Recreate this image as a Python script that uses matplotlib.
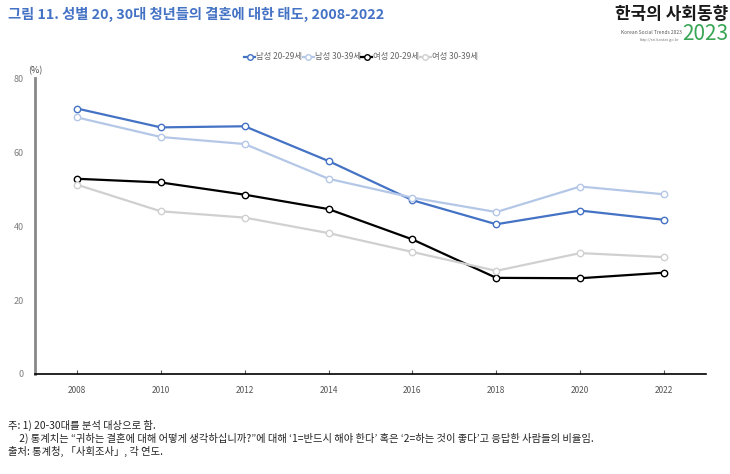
import matplotlib
matplotlib.use("Agg")
import matplotlib.pyplot as plt
from matplotlib.lines import Line2D

plt.rcParams["font.family"] = ["Noto Sans CJK KR", "DejaVu Sans"]

years = ["2008", "2010", "2012", "2014", "2016", "2018", "2020", "2022"]
male_20s = [71.8, 66.7, 67.0, 57.6, 47.0, 40.5, 44.2, 41.7]
male_30s = [69.4, 64.1, 62.2, 52.8, 47.7, 43.8, 50.7, 48.6]
female_20s = [52.8, 51.8, 48.5, 44.6, 36.4, 26.0, 25.9, 27.4]
female_30s = [51.2, 44.0, 42.3, 38.1, 33.0, 27.9, 32.7, 31.6]
labels = ["남성 20-29세", "남성 30-39세", "여성 20-29세", "여성 30-39세"]
colors = ["#4472C4", "#B4C7E7", "#000000", "#D0D0D0"]

fig = plt.figure(figsize=(7.30, 4.74), dpi=100)
ax = fig.add_axes([0.048, 0.211, 0.919, 0.624])

x = range(len(years))
for vals, lab, col in zip([male_20s, male_30s, female_20s, female_30s], labels, colors):
    ax.plot(x, vals, color=col, linewidth=1.6, marker="o", markersize=4.6,
            markerfacecolor="white", markeredgecolor=col, markeredgewidth=1.0,
            label=lab)

ax.set_xlim(-0.5, len(years) - 0.5)
ax.set_ylim(0, 80)
ax.set_yticks([0, 20, 40, 60, 80])
ax.set_xticks(list(x))
ax.set_xticklabels(years)
ax.tick_params(axis="y", length=0, labelsize=6.5, labelcolor="#7f7f7f", pad=8)
ax.tick_params(axis="x", length=3, width=0.8, color="#555555", labelsize=6,
               labelcolor="#555555", pad=9, direction="in")
for s in ["top", "right"]:
    ax.spines[s].set_visible(False)
ax.spines["left"].set_color("#888888")
ax.spines["left"].set_linewidth(2)
ax.spines["bottom"].set_color("#000000")
ax.spines["bottom"].set_linewidth(1.2)

fig.text(35 / 730, 1 - 71 / 474, "(%)", fontsize=6.5, color="#444444",
         ha="center", va="center")

handles = [Line2D([0], [0], color=c, linewidth=1.6, marker="o", markersize=4,
                  markerfacecolor="white", markeredgecolor=c) for c in colors]
fig.legend(handles, labels, loc="center", bbox_to_anchor=(361 / 730, 1 - 57 / 474),
           ncol=4, frameon=False, fontsize=6, handlelength=1.3,
           handletextpad=0.1, columnspacing=0.1, labelcolor="#666666")

fig.text(8 / 730, 1 - 14 / 474, "그림 11. 성별 20, 30대 청년들의 결혼에 대한 태도, 2008-2022",
         fontsize=10.3, fontweight="bold", color="#4472C4", va="center")

fig.text(728 / 730, 1 - 14 / 474, "한국의 사회동향", fontsize=12.2, fontweight="bold",
         color="#1a1a1a", ha="right", va="center")
fig.text(621 / 730, 1 - 32 / 474, "Korean Social Trends 2023", fontsize=3.5,
         color="#555555", ha="left", va="center")
fig.text(640 / 730, 1 - 40 / 474, "http://sri.kostat.go.kr", fontsize=2.8,
         color="#777777", ha="left", va="center")
fig.text(728 / 730, 1 - 34 / 474, "2023", fontsize=15, color="#3aa655",
         ha="right", va="center")

notes = [
    "주: 1) 20-30대를 분석 대상으로 함.",
    "     2) 통계치는 \u201c귀하는 결혼에 대해 어떻게 생각하십니까?\u201d에 대해 \u20181=반드시 해야 한다\u2019 혹은 \u20182=하는 것이 좋다\u2019고 응답한 사람들의 비율임.",
    "출처: 통계청, 「사회조사」, 각 연도.",
]
for i, t in enumerate(notes):
    fig.text(8 / 730, 1 - (425 + i * 13) / 474, t, fontsize=7.4, color="#222222",
             va="center")

fig.savefig("out.png", dpi=100)
